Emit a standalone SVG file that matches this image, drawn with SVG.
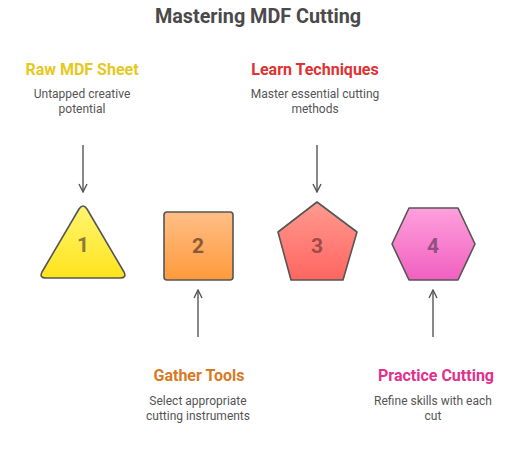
<svg xmlns="http://www.w3.org/2000/svg" width="529" height="462" viewBox="0 0 529 462">
<style>
.title{font-family:Roboto,"Liberation Sans",sans-serif;font-weight:bold;font-size:19.8px;fill:#4a4a4a;text-anchor:middle}
.head{font-family:Roboto,"Liberation Sans",sans-serif;font-weight:bold;font-size:16px;text-anchor:middle}
.desc{font-family:Roboto,"Liberation Sans",sans-serif;font-size:12px;fill:#555;text-anchor:middle}
.num{font-family:Roboto,"Liberation Sans",sans-serif;font-weight:bold;font-size:21px;text-anchor:middle}
.shape{stroke:#555;stroke-width:1.6;stroke-linejoin:round}
.conn{stroke:#555;stroke-width:1.4;fill:none}
</style>
<defs>
<linearGradient id="gy" x1="0" y1="0" x2="0" y2="1"><stop offset="0" stop-color="#fff570"/><stop offset="1" stop-color="#ffe41c"/></linearGradient>
<linearGradient id="go" x1="0" y1="0" x2="0" y2="1"><stop offset="0" stop-color="#ffbe86"/><stop offset="1" stop-color="#ff9a3c"/></linearGradient>
<linearGradient id="gr" x1="0" y1="0" x2="0" y2="1"><stop offset="0" stop-color="#ff9a90"/><stop offset="1" stop-color="#ff6660"/></linearGradient>
<linearGradient id="gp" x1="0" y1="0" x2="0" y2="1"><stop offset="0" stop-color="#ffa0dc"/><stop offset="1" stop-color="#f060c0"/></linearGradient>
<marker id="ah" viewBox="0 0 10 10" refX="9" refY="5" markerWidth="10" markerHeight="10" markerUnits="userSpaceOnUse" orient="auto">
<path d="M1,1 L9,5 L1,9" fill="none" stroke="#555" stroke-width="1.4"/>
</marker>
</defs>
<rect width="529" height="462" fill="#fff"/>
<text class="title" x="258" y="23">Mastering MDF Cutting</text>

<g id="connectors">
<line class="conn" x1="83" y1="145" x2="83" y2="192" marker-end="url(#ah)"/>
<line class="conn" x1="317" y1="145" x2="317" y2="192" marker-end="url(#ah)"/>
<line class="conn" x1="198" y1="337" x2="198" y2="290" marker-end="url(#ah)"/>
<line class="conn" x1="433" y1="337" x2="433" y2="290" marker-end="url(#ah)"/>
</g>

<g id="node1">
<path class="shape" fill="url(#gy)" d="M79,209 Q83,203 87,209 L124,272 Q127,278 120,278 L46,278 Q39,278 42,272 Z"/>
<text class="num" x="83" y="252" fill="#8a7a3c">1</text>
<text class="head" x="82" y="75" fill="#e6c81e">Raw MDF Sheet</text>
<text class="desc" x="82" y="98">Untapped creative</text>
<text class="desc" x="82" y="113">potential</text>
</g>

<g id="node2">
<rect class="shape" fill="url(#go)" x="164" y="212" width="69" height="68" rx="3"/>
<text class="num" x="198" y="253" fill="#8a5a36">2</text>
<text class="head" x="199" y="381" fill="#d87a24">Gather Tools</text>
<text class="desc" x="198" y="405">Select appropriate</text>
<text class="desc" x="198" y="420">cutting instruments</text>
</g>

<g id="node3">
<path class="shape" fill="url(#gr)" d="M317,202 L357,232 L343,280 L291,280 L278,232 Z"/>
<text class="num" x="317" y="253" fill="#a04a4a">3</text>
<text class="head" x="315" y="75" fill="#e03232">Learn Techniques</text>
<text class="desc" x="315" y="98">Master essential cutting</text>
<text class="desc" x="315" y="113">methods</text>
</g>

<g id="node4">
<path class="shape" fill="url(#gp)" d="M392,244 L409,208 L458,208 L475,244 L458,280 L409,280 Z"/>
<text class="num" x="433" y="253" fill="#905082">4</text>
<text class="head" x="436" y="381" fill="#e0308e">Practice Cutting</text>
<text class="desc" x="433" y="405">Refine skills with each</text>
<text class="desc" x="433" y="420">cut</text>
</g>
</svg>
